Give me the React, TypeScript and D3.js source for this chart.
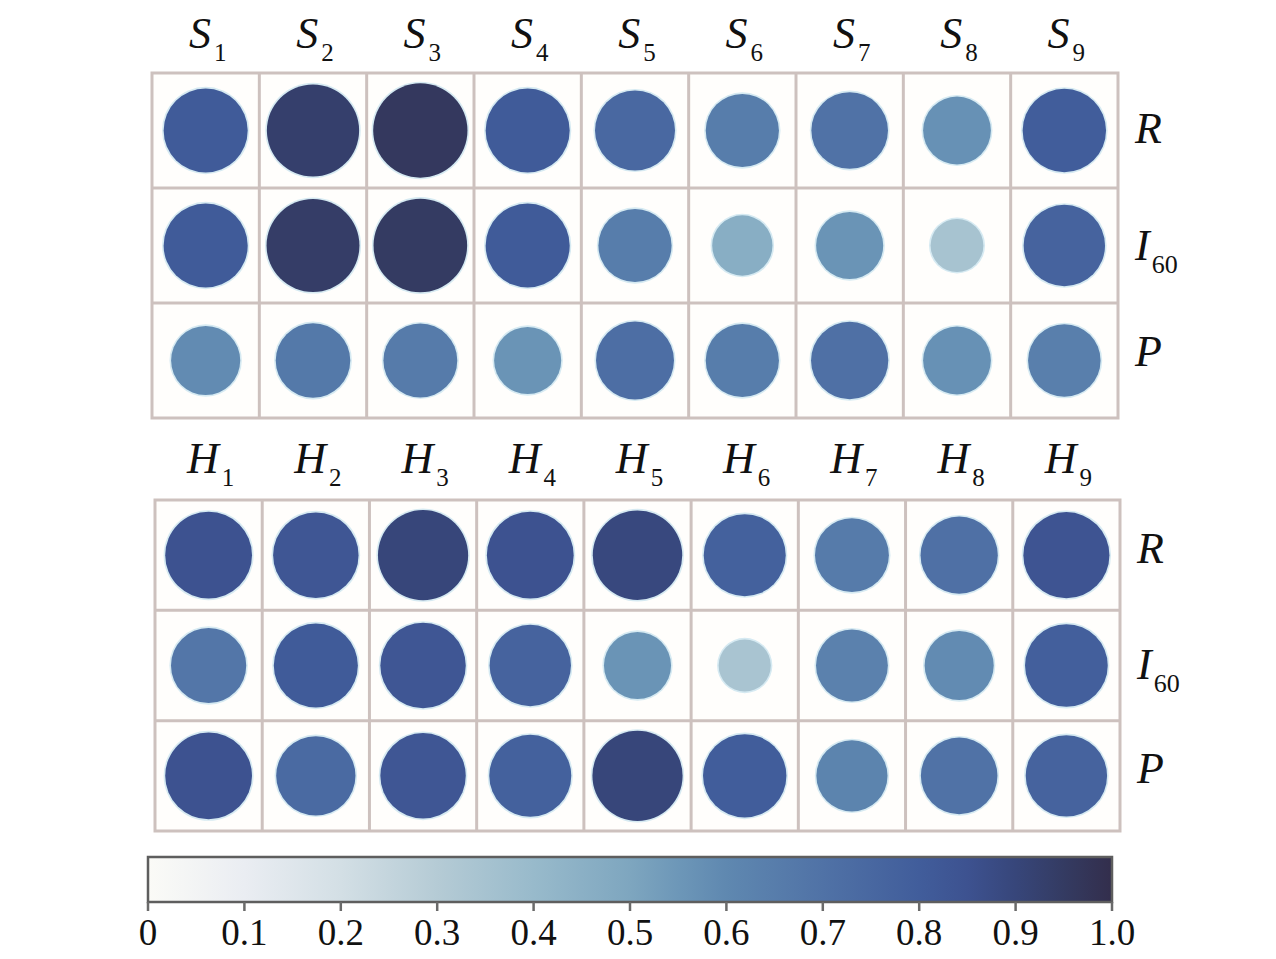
import React from 'react';
import * as d3 from 'd3';

// ---- data ----
const topCols = ['1', '2', '3', '4', '5', '6', '7', '8', '9'];
const botCols = ['1', '2', '3', '4', '5', '6', '7', '8', '9'];
const rowKeys = ['R', 'I60', 'P'];

const topR = [0.81, 0.93, 0.96, 0.81, 0.75, 0.65, 0.7, 0.57, 0.8];
const topI60 = [0.81, 0.94, 0.95, 0.81, 0.65, 0.46, 0.56, 0.35, 0.77];
const topP = [0.59, 0.67, 0.66, 0.56, 0.72, 0.65, 0.71, 0.57, 0.64];

const botR = [0.85, 0.83, 0.9, 0.85, 0.89, 0.78, 0.66, 0.71, 0.84];
const botI60 = [0.68, 0.81, 0.83, 0.77, 0.56, 0.34, 0.63, 0.59, 0.79];
const botP = [0.85, 0.74, 0.83, 0.78, 0.9, 0.8, 0.62, 0.7, 0.77];

const tickValues = [0, 0.1, 0.2, 0.3, 0.4, 0.5, 0.6, 0.7, 0.8, 0.9, 1.0];
const tickLabels = ['0', '0.1', '0.2', '0.3', '0.4', '0.5', '0.6', '0.7', '0.8', '0.9', '1.0'];

// colour ramp
const stopVals = [0, 0.1, 0.2, 0.3, 0.4, 0.5, 0.55, 0.6, 0.7, 0.8, 0.85, 0.9, 0.95, 1.0];
const stopCols = ['#fbfbf7', '#eaedf2', '#d3dfe5', '#b5cbd5', '#98bacb', '#7ea6bf', '#6d97b8', '#5f88b0', '#5072a6', '#415d9b', '#3d5290', '#37467a', '#343b62', '#332e4c'];

const FONT = 'Liberation Serif';

const color = d3.scaleLinear<string>().domain(stopVals).range(stopCols).interpolate(d3.interpolateRgb).clamp(true);
const radius = d3.scaleLinear().domain([0, 1]).range([14.5, 48.5]);

type PanelProps = {
  x0: number; x1: number; y0: number; y1: number;
  letter: string; cols: string[]; rows: number[][];
  labelBase: number; rowOffsets: number[];
};

function Panel({ x0, x1, y0, y1, letter, cols, rows, labelBase, rowOffsets }: PanelProps) {
  const xs = d3.scaleBand<string>().domain(cols).range([x0, x1]);
  const ys = d3.scaleBand<string>().domain(rowKeys).range([y0, y1]);
  const bw = xs.bandwidth();
  const bh = ys.bandwidth();
  const grid = '#cdc1be';
  return (
    <g>
      <rect x={x0} y={y0} width={x1 - x0} height={y1 - y0} fill="#fffefc" />
      {rowKeys.map((rk, ri) =>
        cols.map((c, ci) => {
          const v = rows[ri][ci];
          const cx = (xs(c) as number) + bw / 2;
          const cy = (ys(rk) as number) + bh / 2;
          return (
            <g key={rk + c}>
              <circle cx={cx} cy={cy} r={radius(v) + 1.6} fill="#d6eaf2" />
              <circle cx={cx} cy={cy} r={radius(v)} fill={color(v)} />
            </g>
          );
        })
      )}
      {cols.slice(1).map((c) => (
        <line key={'v' + c} x1={xs(c)} x2={xs(c)} y1={y0} y2={y1} stroke={grid} strokeWidth={3} />
      ))}
      {rowKeys.slice(1).map((rk) => (
        <line key={'h' + rk} x1={x0} x2={x1} y1={ys(rk)} y2={ys(rk)} stroke={grid} strokeWidth={3} />
      ))}
      <rect x={x0} y={y0} width={x1 - x0} height={y1 - y0} fill="none" stroke={grid} strokeWidth={3} />
      {cols.map((c) => (
        <text key={'l' + c} x={(xs(c) as number) + bw / 2 + 2} y={labelBase} textAnchor="middle" style={{ fontFamily: FONT }} fontSize={44} fill="#111">
          <tspan fontStyle="italic">{letter}</tspan>
          <tspan fontSize={25} dy={13} dx={3}>{c}</tspan>
        </text>
      ))}
      {rowKeys.map((rk, ri) => {
        const cy = (ys(rk) as number) + bh / 2;
        const base = cy + rowOffsets[ri];
        if (rk === 'I60') {
          return (
            <text key={'r' + rk} x={x1 + 17} y={base} style={{ fontFamily: FONT }} fontSize={44} fill="#111">
              <tspan fontStyle="italic">I</tspan>
              <tspan fontSize={26} dy={13} dx={2}>60</tspan>
            </text>
          );
        }
        return (
          <text key={'r' + rk} x={x1 + 17} y={base} style={{ fontFamily: FONT }} fontSize={44} fontStyle="italic" fill="#111">
            {rk}
          </text>
        );
      })}
    </g>
  );
}

function ColorBar() {
  const bx0 = 148, bx1 = 1112, by0 = 857, by1 = 902;
  const xs = d3.scaleLinear().domain([0, 1]).range([bx0, bx1]);
  return (
    <g>
      <defs>
        <linearGradient id="cbar" x1="0" x2="1" y1="0" y2="0">
          {stopVals.map((v, i) => (
            <stop key={i} offset={`${v * 100}%`} stopColor={stopCols[i]} />
          ))}
        </linearGradient>
      </defs>
      <rect x={bx0} y={by0} width={bx1 - bx0} height={by1 - by0} fill="url(#cbar)" stroke="#5e5e5e" strokeWidth={2.5} />
      {tickValues.map((t, i) => (
        <g key={i}>
          <line x1={xs(t)} x2={xs(t)} y1={by1} y2={by1 + 9} stroke="#6a6a6a" strokeWidth={2.5} />
          <text x={xs(t)} y={945} textAnchor="middle" style={{ fontFamily: FONT }} fontSize={37} fill="#111">
            {tickLabels[i]}
          </text>
        </g>
      ))}
    </g>
  );
}

export default function App() {
  return (
    <svg width={1276} height={959} style={{ position: 'absolute', left: 0, top: 0, background: '#fff' }}>
      <rect x={0} y={0} width={1276} height={959} fill="#fff" />
      <Panel x0={152} x1={1118} y0={73} y1={418} letter="S" cols={topCols} rows={[topR, topI60, topP]} labelBase={48} rowOffsets={[12, 14, 5]} />
      <Panel x0={155} x1={1120} y0={500} y1={831} letter="H" cols={botCols} rows={[botR, botI60, botP]} labelBase={473} rowOffsets={[8, 13, 7]} />
      <ColorBar />
    </svg>
  );
}
